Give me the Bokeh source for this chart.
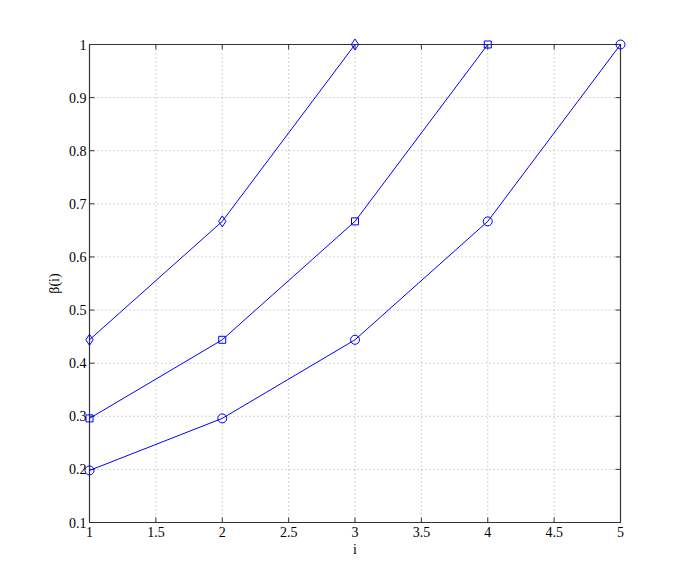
import math
from bokeh.plotting import figure
from bokeh.models import Range1d, FixedTicker, BoxAnnotation
from bokeh.embed import file_html
from bokeh.resources import INLINE

x_diamond = [1, 2, 3]
y_diamond = [0.444, 0.667, 1.0]
x_square = [1, 2, 3, 4]
y_square = [0.296, 0.444, 0.667, 1.0]
x_circle = [1, 2, 3, 4, 5]
y_circle = [0.198, 0.296, 0.444, 0.667, 1.0]

x_ticks = [1, 1.5, 2, 2.5, 3, 3.5, 4, 4.5, 5]
y_ticks = [0.1, 0.2, 0.3, 0.4, 0.5, 0.6, 0.7, 0.8, 0.9, 1.0]
x_min, x_max = 1, 5
y_min, y_max = 0.1, 1.0

FONT = "Liberation Serif"
BLUE = "#0000ff"
AXC = "#333333"

# box is 531 x 478 px; pad frame by 8 px so edge markers are not clipped
PADPX = 8
BOXW, BOXH = 531, 478
px_x = (x_max - x_min) / BOXW * PADPX
px_y = (y_max - y_min) / BOXH * PADPX

p = figure(output_backend="svg", toolbar_location=None,
           frame_width=BOXW + 2 * PADPX, frame_height=BOXH + 2 * PADPX,
           x_range=Range1d(x_min - px_x, x_max + px_x),
           y_range=Range1d(y_min - px_y, y_max + px_y),
           min_border_left=81, min_border_top=36, min_border_right=40, min_border_bottom=30,
           background_fill_color="white", border_fill_color="white")
p.outline_line_color = None
p.xgrid.visible = False
p.ygrid.visible = False

# label-only axes at the frame edges
xa = p.xaxis[0]
ya = p.yaxis[0]
for ax, ticks in ((xa, x_ticks), (ya, y_ticks)):
    ax.ticker = FixedTicker(ticks=ticks)
    ax.axis_line_color = None
    ax.major_tick_line_color = None
    ax.minor_tick_line_color = None
    ax.major_tick_in = 0
    ax.major_tick_out = 0
    ax.minor_tick_in = 0
    ax.minor_tick_out = 0
    ax.major_label_text_font = FONT
    ax.major_label_text_font_size = "14px"
    ax.major_label_text_color = "black"
    ax.axis_label_text_font = FONT
    ax.axis_label_text_font_size = "14px"
    ax.axis_label_text_font_style = "normal"
    ax.axis_label_text_color = "black"
xa.axis_label = "i"
ya.axis_label = "β(i)"
xa.major_label_standoff = -4
ya.major_label_standoff = -5
xa.axis_label_standoff = 2
ya.axis_label_standoff = 4

# dotted grid inside the box (edge lines coincide with the box)
gx = x_ticks[1:-1]
gy = y_ticks[1:-1]
p.segment(x0=gx, y0=[y_min] * len(gx), x1=gx, y1=[y_max] * len(gx),
          line_color="#aaaaaa", line_dash="1 3", line_width=1, level="underlay")
p.segment(x0=[x_min] * len(gy), y0=gy, x1=[x_max] * len(gy), y1=gy,
          line_color="#aaaaaa", line_dash="1 3", line_width=1, level="underlay")

# axes box
p.add_layout(BoxAnnotation(left=x_min, right=x_max, bottom=y_min, top=y_max,
                           fill_alpha=0, line_color=AXC, line_alpha=1.0,
                           line_width=1.2, level="underlay"))

# inward ticks on all four sides
TL = 5
nx, ny = len(x_ticks), len(y_ticks)
p.ray(x=x_ticks, y=[y_min] * nx, length=TL, length_units="screen", angle=math.pi / 2,
      line_color=AXC, line_width=1, level="underlay")
p.ray(x=x_ticks, y=[y_max] * nx, length=TL, length_units="screen", angle=-math.pi / 2,
      line_color=AXC, line_width=1, level="underlay")
p.ray(x=[x_min] * ny, y=y_ticks, length=TL, length_units="screen", angle=0,
      line_color=AXC, line_width=1, level="underlay")
p.ray(x=[x_max] * ny, y=y_ticks, length=TL, length_units="screen", angle=math.pi,
      line_color=AXC, line_width=1, level="underlay")

p.line(x_diamond, y_diamond, line_color=BLUE, line_width=1)
p.scatter(x_diamond, y_diamond, marker="diamond", size=11, line_color=BLUE, fill_color=None)
p.line(x_square, y_square, line_color=BLUE, line_width=1)
p.scatter(x_square, y_square, marker="square", size=7, line_color=BLUE, fill_color=None)
p.line(x_circle, y_circle, line_color=BLUE, line_width=1)
p.scatter(x_circle, y_circle, marker="circle", size=9, line_color=BLUE, fill_color=None)

open("out.html", "w").write(file_html(p, INLINE))
